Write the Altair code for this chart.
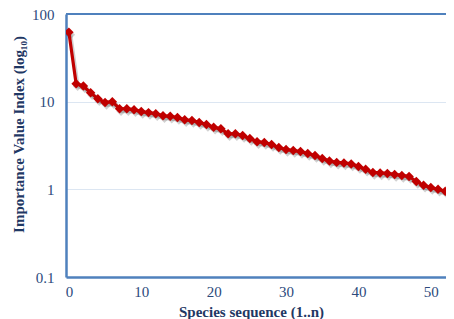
import altair as alt
import pandas as pd

species = list(range(0, 54))
ivi = [62.0, 16.0, 15.1, 12.6, 10.8, 9.8, 10.0, 8.3, 8.3, 8.1,
       7.7, 7.5, 7.3, 6.9, 6.8, 6.6, 6.2, 6.1, 5.8, 5.5,
       5.1, 4.9, 4.3, 4.3, 4.1, 3.8, 3.5, 3.42, 3.24, 3.0,
       2.85, 2.77, 2.7, 2.56, 2.43, 2.25, 2.1, 2.03, 2.0, 1.95,
       1.82, 1.69, 1.56, 1.54, 1.52, 1.48, 1.44, 1.4, 1.23, 1.11,
       1.05, 1.0, 0.95, 0.88]

x_ticks = [0, 10, 20, 30, 40, 50]
y_ticks = [0.1, 1, 10, 100]

df = pd.DataFrame({"species": species, "ivi": ivi})
border_df = pd.DataFrame({"edge": ["top"]})

AXIS_BLUE = "#4f81bd"
TEXT_BLUE = "#2c4a7c"
TITLE_BLUE = "#1f3864"
RED = "#c00000"

x = alt.X("species:Q",
          scale=alt.Scale(domain=[-0.4, 52.1], nice=False, zero=False),
          axis=alt.Axis(values=x_ticks, title="Species sequence (1..n)", grid=False,
                        ticks=False, domainColor=AXIS_BLUE, domainWidth=2.5,
                        labelFont="Liberation Serif", labelFontSize=15, labelColor=TEXT_BLUE,
                        labelPadding=7, labelFlush=False,
                        titleFont="Liberation Serif", titleFontSize=15, titleFontWeight="bold",
                        titleColor=TITLE_BLUE, titleX=185, titleY=34, titleAlign="center",
                        titleBaseline="middle"))
y = alt.Y("ivi:Q",
          scale=alt.Scale(type="log", domain=[0.1, 100], nice=False),
          axis=alt.Axis(values=y_ticks, format="~g", title="Importance Value Index (log₁₀)",
                        grid=True, gridColor="#dce6f2", gridWidth=1.2,
                        ticks=False, domainColor=AXIS_BLUE, domainWidth=2.5,
                        labelFont="Liberation Serif", labelFontSize=15, labelColor=TEXT_BLUE,
                        labelPadding=12,
                        titleFont="Liberation Serif", titleFontSize=15, titleFontWeight="bold",
                        titleColor=TITLE_BLUE, titleX=-48, titleY=120, titleAlign="center",
                        titleBaseline="middle", titleAngle=270))

top_border = alt.Chart(border_df).mark_rule(color=AXIS_BLUE, strokeWidth=2.2).encode(
    x=alt.value(0), x2=alt.value(380), y=alt.value(0))

shadow = alt.Chart(df).mark_line(
    color="#000000", opacity=0.18, strokeWidth=4, xOffset=1.5, yOffset=2.5,
    point=alt.OverlayMarkDef(shape="diamond", size=90, color="#000000", opacity=0.18,
                             xOffset=1.5, yOffset=2.5, filled=True),
    clip=True
).encode(x=x, y=y)

line = alt.Chart(df).mark_line(
    color=RED, strokeWidth=3.2,
    point=alt.OverlayMarkDef(shape="diamond", size=90, color=RED, filled=True, opacity=1),
    clip=True
).encode(x=x, y=y)

chart = alt.layer(top_border, shadow, line).properties(
    width=380, height=263,
    autosize=alt.AutoSizeParams(type="none"),
    padding={"left": 58, "top": 6, "right": 0, "bottom": 42},
).configure_view(strokeWidth=0).configure(background="white")

chart.save("out.html", embed_options={"renderer": "svg", "actions": False})
